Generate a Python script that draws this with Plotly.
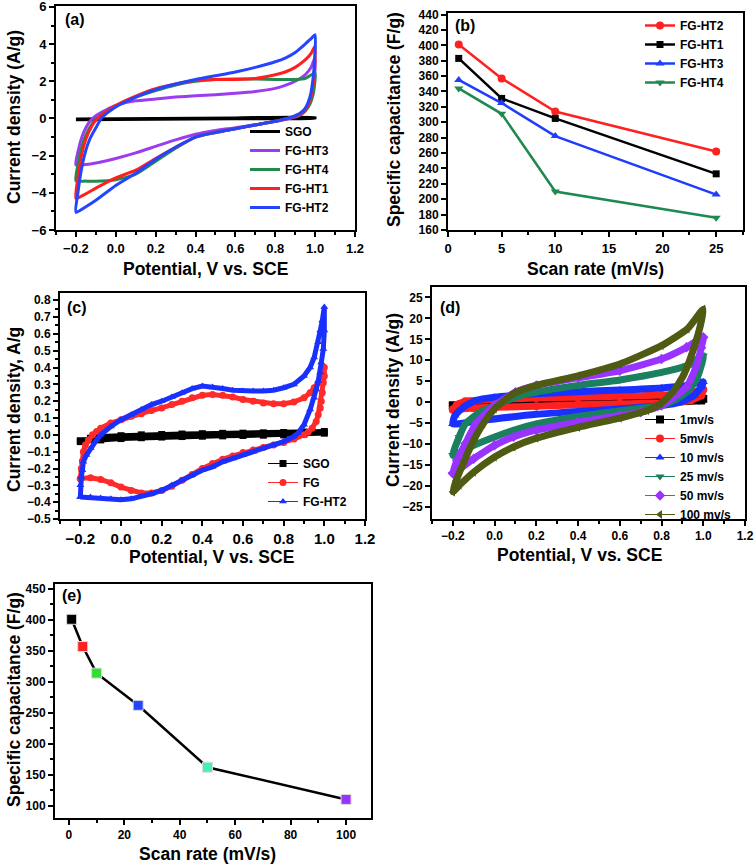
import plotly.graph_objects as go

FONT = "Liberation Sans, Arial, sans-serif"

# ---------------- panel (a): CV curves, V vs I (A/g) ----------------
a_names = ["SGO", "FG-HT3", "FG-HT4", "FG-HT1", "FG-HT2"]
a_colors = ["#000000", "#9b3cf0", "#238a4e", "#ff1f1f", "#2445ff"]

a_sgo_v = [-0.2, 0.2, 0.6, 1.0, 1.0, 0.6, 0.2, -0.2]
a_sgo_i = [-0.03, 0.0, 0.03, 0.05, 0.02, -0.01, -0.04, -0.07]

a_ht3_v = [-0.2, -0.19, -0.17, -0.15, -0.13, -0.1, -0.05, 0.0, 0.05, 0.1, 0.2, 0.3, 0.4, 0.5, 0.6, 0.7, 0.8, 0.85, 0.9, 0.95, 0.98, 1.0,
           0.998, 0.99, 0.975, 0.95, 0.92, 0.88, 0.84, 0.8, 0.7, 0.6, 0.5, 0.4, 0.3, 0.2, 0.1, 0.0, -0.1, -0.15, -0.2]
a_ht3_i = [-2.5, -1.8, -1.0, -0.5, -0.15, 0.15, 0.45, 0.7, 0.85, 0.95, 1.05, 1.15, 1.22, 1.28, 1.35, 1.45, 1.62, 1.78, 2.0, 2.35, 2.75, 3.3,
           2.4, 1.6, 0.9, 0.4, 0.15, 0.02, -0.08, -0.17, -0.33, -0.5, -0.65, -0.85, -1.15, -1.5, -1.85, -2.15, -2.4, -2.48, -2.5]

a_ht4_v = [-0.2, -0.19, -0.17, -0.15, -0.12, -0.1, -0.05, 0.0, 0.1, 0.2, 0.3, 0.4, 0.5, 0.6, 0.7, 0.8, 0.9, 0.95, 1.0,
           0.998, 0.99, 0.975, 0.95, 0.92, 0.88, 0.84, 0.8, 0.7, 0.6, 0.5, 0.4, 0.3, 0.2, 0.1, 0.0, -0.1, -0.15, -0.2]
a_ht4_i = [-3.35, -2.5, -1.5, -0.9, -0.3, -0.05, 0.35, 0.68, 1.15, 1.5, 1.8, 2.0, 2.1, 2.12, 2.12, 2.1, 2.1, 2.15, 2.45,
           1.9, 1.3, 0.8, 0.4, 0.18, 0.05, -0.05, -0.15, -0.35, -0.55, -0.75, -1.0, -1.6, -2.3, -3.0, -3.3, -3.38, -3.37, -3.35]

a_ht1_v = [-0.2, -0.19, -0.17, -0.15, -0.12, -0.1, -0.05, 0.0, 0.1, 0.2, 0.3, 0.4, 0.5, 0.6, 0.7, 0.8, 0.85, 0.9, 0.95, 0.98, 1.0,
           0.998, 0.99, 0.975, 0.95, 0.92, 0.88, 0.84, 0.8, 0.7, 0.6, 0.5, 0.4, 0.3, 0.2, 0.1, 0.0, -0.1, -0.15, -0.2]
a_ht1_i = [-4.3, -3.2, -1.9, -1.1, -0.4, -0.1, 0.35, 0.7, 1.2, 1.6, 1.85, 2.05, 2.1, 2.1, 2.15, 2.35, 2.5, 2.75, 3.15, 3.5, 3.9,
           2.8, 1.8, 1.0, 0.45, 0.2, 0.05, -0.05, -0.15, -0.35, -0.55, -0.75, -1.0, -1.55, -2.15, -2.78, -3.2, -3.75, -4.05, -4.3]

a_ht2_v = [-0.2, -0.19, -0.17, -0.15, -0.13, -0.1, -0.07, -0.03, 0.0, 0.05, 0.1, 0.2, 0.3, 0.4, 0.5, 0.6, 0.7, 0.8, 0.85, 0.9, 0.95, 0.98, 1.0,
           0.998, 0.99, 0.975, 0.95, 0.92, 0.88, 0.84, 0.8, 0.7, 0.6, 0.5, 0.4, 0.3, 0.2, 0.1, 0.0, -0.1, -0.15, -0.2]
a_ht2_i = [-5.05, -4.0, -2.6, -1.7, -1.1, -0.5, 0.05, 0.4, 0.62, 0.9, 1.15, 1.55, 1.85, 2.1, 2.3, 2.5, 2.75, 3.05, 3.25, 3.55, 4.0, 4.3, 4.5,
           3.3, 2.2, 1.2, 0.55, 0.25, 0.07, -0.05, -0.15, -0.35, -0.55, -0.75, -1.0, -1.55, -2.2, -2.95, -3.6, -4.4, -4.75, -5.05]

# ---------------- panel (b): specific capacitance vs scan rate ----------------
b_rate = [1, 5, 10, 25]
b_names = ["FG-HT2", "FG-HT1", "FG-HT3", "FG-HT4"]
b_colors = ["#ff2020", "#000000", "#1f3dff", "#1e8a50"]
b_symbols = ["circle", "square", "triangle-up", "triangle-down"]
b_ht2 = [401, 357, 314, 262]
b_ht1 = [383, 331, 305, 233]
b_ht3 = [355, 325, 282, 206]
b_ht4 = [344, 311, 210, 176]

# ---------------- panel (c): CV curves SGO / FG / FG-HT2 ----------------
c_names = ["SGO", "FG", "FG-HT2"]
c_colors = ["#000000", "#ff2a2a", "#1a30ff"]
c_symbols = ["square", "circle", "triangle-up"]

c_sgo_v = [-0.2, -0.15, -0.1, 0.0, 0.1, 0.2, 0.3, 0.4, 0.5, 0.6, 0.7, 0.8, 0.9, 1.0,
           1.0, 0.9, 0.8, 0.7, 0.6, 0.5, 0.4, 0.3, 0.2, 0.1, 0.0, -0.1, -0.2]
c_sgo_i = [-0.035, -0.02, -0.01, -0.005, 0.0, 0.002, 0.005, 0.007, 0.009, 0.01, 0.012, 0.014, 0.017, 0.02,
           0.01, 0.005, 0.0, -0.002, -0.004, -0.006, -0.008, -0.01, -0.013, -0.017, -0.022, -0.03, -0.04]

c_fg_v = [-0.2, -0.195, -0.19, -0.185, -0.175, -0.16, -0.14, -0.12, -0.1, -0.05, 0.0, 0.05, 0.1, 0.15, 0.2, 0.25, 0.3, 0.35,
          0.4, 0.45, 0.5, 0.55, 0.6, 0.65, 0.7, 0.75, 0.8, 0.85, 0.9, 0.93, 0.95, 0.97, 0.99, 1.0,
          1.0, 0.995, 0.99, 0.985, 0.98, 0.97, 0.96, 0.94, 0.92, 0.9, 0.85, 0.8, 0.75, 0.7, 0.65, 0.6, 0.55, 0.5,
          0.45, 0.4, 0.35, 0.3, 0.25, 0.2, 0.15, 0.1, 0.05, 0.0, -0.05, -0.1, -0.15, -0.2]
c_fg_i = [-0.26, -0.2, -0.155, -0.1, -0.06, -0.03, 0.0, 0.02, 0.04, 0.07, 0.09, 0.11, 0.125, 0.145, 0.16, 0.18, 0.2, 0.22,
          0.235, 0.24, 0.235, 0.225, 0.21, 0.2, 0.19, 0.185, 0.185, 0.195, 0.22, 0.25, 0.28, 0.31, 0.36, 0.4,
          0.35, 0.31, 0.25, 0.2, 0.16, 0.12, 0.08, 0.04, 0.015, 0.0, -0.025, -0.045, -0.06, -0.075, -0.09, -0.105, -0.125, -0.145,
          -0.17, -0.2, -0.235, -0.27, -0.305, -0.33, -0.345, -0.345, -0.33, -0.31, -0.285, -0.265, -0.255, -0.26]

c_ht2_v = [-0.2, -0.2, -0.195, -0.19, -0.185, -0.17, -0.15, -0.12, -0.1, -0.05, 0.0, 0.05, 0.1, 0.15, 0.2, 0.25, 0.3, 0.35,
           0.4, 0.45, 0.5, 0.55, 0.6, 0.65, 0.7, 0.75, 0.8, 0.85, 0.9, 0.93, 0.95, 0.97, 0.98, 0.99, 1.0,
           1.0, 0.995, 0.985, 0.98, 0.97, 0.96, 0.95, 0.93, 0.9, 0.87, 0.85, 0.8, 0.75, 0.7, 0.65, 0.6, 0.55, 0.5,
           0.45, 0.4, 0.35, 0.3, 0.25, 0.2, 0.15, 0.1, 0.05, 0.0, -0.05, -0.1, -0.15, -0.2]
c_ht2_i = [-0.37, -0.3, -0.25, -0.21, -0.16, -0.12, -0.08, -0.03, 0.0, 0.05, 0.09, 0.12, 0.15, 0.18, 0.2, 0.225, 0.25, 0.275,
           0.29, 0.285, 0.275, 0.265, 0.26, 0.26, 0.26, 0.265, 0.28, 0.3, 0.35, 0.4, 0.46, 0.55, 0.62, 0.68, 0.76,
           0.62, 0.51, 0.43, 0.37, 0.32, 0.27, 0.22, 0.15, 0.06, 0.01, -0.01, -0.04, -0.06, -0.08, -0.1, -0.12, -0.14, -0.16,
           -0.19, -0.21, -0.24, -0.27, -0.3, -0.33, -0.35, -0.365, -0.38, -0.385, -0.38, -0.375, -0.37, -0.37]

# ---------------- panel (d): CV of FG-HT2 at several scan rates ----------------
d_names = ["1mv/s", "5mv/s", "10 mv/s", "25 mv/s", "50 mv/s", "100 mv/s"]
d_colors = ["#000000", "#ff2020", "#1a30ff", "#1a8060", "#9933ff", "#4f5a12"]
d_symbols = ["square", "circle", "triangle-up", "triangle-down", "diamond", "triangle-left"]

d_1_v = [-0.2, -0.14, 0.0, 0.4, 0.8, 1.0, 0.99, 0.8, 0.4, 0.0, -0.2]
d_1_i = [-0.8, -0.2, -0.1, 0.2, 0.4, 0.8, 0.4, 0.0, -0.25, -0.5, -0.8]

d_5_v = [-0.2, -0.18, -0.14, 0.0, 0.2, 0.4, 0.6, 0.8, 0.92, 1.0, 0.99, 0.94, 0.86, 0.6, 0.4, 0.2, 0.0, -0.1, -0.2]
d_5_i = [-1.8, -0.6, 0.2, 0.6, 1.0, 1.2, 1.4, 1.7, 2.0, 3.0, 1.6, 0.4, -0.1, -0.4, -0.6, -1.0, -1.2, -1.4, -1.75]

d_10_v = [-0.2, -0.19, -0.15, -0.09, 0.0, 0.2, 0.4, 0.6, 0.8, 0.92, 1.0, 0.99, 0.956, 0.89, 0.8, 0.6, 0.4, 0.2, 0.0, -0.1, -0.2]
d_10_i = [-5.2, -3.2, -1.2, 0.4, 1.2, 2.0, 2.5, 2.9, 3.4, 4.0, 4.8, 3.6, 1.6, 0.0, -0.8, -1.6, -2.2, -2.9, -4.0, -4.6, -5.2]

d_25_v = [-0.2, -0.17, -0.14, -0.07, 0.0, 0.1, 0.2, 0.4, 0.6, 0.8, 0.92, 1.0, 0.99, 0.965, 0.92, 0.86, 0.8, 0.6, 0.4, 0.2, 0.09, 0.0, -0.1, -0.2]
d_25_i = [-12.7, -8.3, -5.2, -2.4, -0.8, 1.2, 2.4, 4.0, 5.3, 7.1, 8.7, 11.1, 8.7, 5.2, 2.4, 0.4, -0.8, -2.1, -3.4, -5.2, -6.7, -8.3, -10.3, -12.7]

d_50_v = [-0.2, -0.18, -0.14, -0.09, 0.0, 0.1, 0.2, 0.4, 0.6, 0.8, 0.92, 1.0, 0.99, 0.965, 0.92, 0.86, 0.8, 0.7, 0.6, 0.4, 0.2, 0.09, 0.0, -0.1, -0.2]
d_50_i = [-17.0, -13.9, -9.9, -5.2, -0.8, 2.4, 4.0, 5.8, 7.5, 10.3, 13.1, 15.5, 13.0, 8.3, 3.6, 1.2, -0.8, -2.4, -3.2, -4.8, -6.7, -8.3, -10.3, -13.5, -17.0]

d_100_v = [-0.2, -0.184, -0.144, -0.104, -0.055, 0.0, 0.09, 0.2, 0.4, 0.6, 0.8, 0.924, 1.0, 0.988, 0.956, 0.908, 0.86, 0.795, 0.73, 0.6, 0.4, 0.2, 0.09, 0.0, -0.1, -0.168, -0.2]
d_100_i = [-21.4, -18.7, -13.9, -9.5, -5.2, -1.6, 2.0, 4.0, 6.3, 9.1, 13.5, 17.5, 22.2, 18.7, 13.1, 6.7, 2.8, -0.4, -2.0, -3.8, -6.0, -8.6, -10.7, -13.1, -16.7, -19.8, -21.4]

# ---------------- panel (e): capacitance of FG-HT2 vs scan rate ----------------
e_rate = [1, 5, 10, 25, 50, 100]
e_cap = [401, 357, 314, 262, 162, 110]
e_colors = ["#000000", "#ff2020", "#33dd33", "#2244ff", "#44eebb", "#9933ff"]

# ---------------- figure ----------------
W, H = 756, 865


def px_x(p):
    return min(1.0, max(0.0, p / W))


def px_y(p):
    return min(1.0, max(0.0, 1 - p / H))


fig = go.Figure()

# (a)
a_sets = [(a_sgo_v, a_sgo_i), (a_ht3_v, a_ht3_i), (a_ht4_v, a_ht4_i), (a_ht1_v, a_ht1_i), (a_ht2_v, a_ht2_i)]
for name, col, (v, i) in zip(a_names, a_colors, a_sets):
    fig.add_trace(go.Scatter(x=v, y=i, mode="lines", name=name, xaxis="x", yaxis="y",
                             line=dict(color=col, width=3, shape="spline", smoothing=0.6),
                             legend="legend"))

# (b)
for name, col, sym, vals in zip(b_names, b_colors, b_symbols, [b_ht2, b_ht1, b_ht3, b_ht4]):
    fig.add_trace(go.Scatter(x=b_rate, y=vals, mode="lines+markers", name=name, xaxis="x2", yaxis="y2",
                             line=dict(color=col, width=2.5),
                             marker=dict(symbol=sym, size=8 if sym != "square" else 7, color=col),
                             legend="legend2"))

# (c)
c_sets = [(c_sgo_v, c_sgo_i), (c_fg_v, c_fg_i), (c_ht2_v, c_ht2_i)]
for name, col, sym, (v, i) in zip(c_names, c_colors, c_symbols, c_sets):
    fig.add_trace(go.Scatter(x=v, y=i, mode="lines", xaxis="x3", yaxis="y3", showlegend=False,
                             line=dict(color=col, width=5), hoverinfo="skip"))
    fig.add_trace(go.Scatter(x=v, y=i, mode="lines+markers", name=name, xaxis="x3", yaxis="y3",
                             line=dict(color=col, width=1),
                             marker=dict(symbol=sym, size=7, color=col),
                             legend="legend3"))

# (d)
d_sets = [(d_1_v, d_1_i), (d_5_v, d_5_i), (d_10_v, d_10_i), (d_25_v, d_25_i), (d_50_v, d_50_i), (d_100_v, d_100_i)]
for name, col, sym, (v, i) in zip(d_names, d_colors, d_symbols, d_sets):
    fig.add_trace(go.Scatter(x=v, y=i, mode="lines", xaxis="x4", yaxis="y4", showlegend=False,
                             line=dict(color=col, width=7, shape="spline", smoothing=0.5), hoverinfo="skip"))
    fig.add_trace(go.Scatter(x=v, y=i, mode="lines+markers", name=name, xaxis="x4", yaxis="y4",
                             line=dict(color=col, width=1, shape="spline", smoothing=0.5),
                             marker=dict(symbol=sym, size=8, color=col),
                             legend="legend4"))

# (e)
fig.add_trace(go.Scatter(x=e_rate, y=e_cap, mode="lines+markers", xaxis="x5", yaxis="y5", showlegend=False,
                         line=dict(color="#000000", width=2.5),
                         marker=dict(symbol="square", size=10, color=e_colors,
                                     line=dict(color="#dddddd", width=1))))


def axis(domain, rng, dtick, minor, anchor, size=13, fmt=None, tick0=None):
    d = dict(domain=domain, range=rng, dtick=dtick, anchor=anchor, automargin=False,
             showline=True, linecolor="black", linewidth=2, mirror=True,
             ticks="outside", ticklen=5, tickwidth=2, tickcolor="black",
             showgrid=False, zeroline=False, ticklabeloverflow="allow",
             tickfont=dict(family=FONT, size=size, color="black", weight="bold"))
    if minor:
        d["minor"] = dict(dtick=minor, ticks="outside", ticklen=3, tickwidth=1.5, tickcolor="black", showgrid=False)
    if fmt:
        d["tickformat"] = fmt
    if tick0 is not None:
        d["tick0"] = tick0
    return d


layout = dict(
    width=W, height=H, margin=dict(l=0, r=0, t=0, b=0, autoexpand=False),
    paper_bgcolor="white", plot_bgcolor="white",
    font=dict(family=FONT, color="black"),
    xaxis=axis([px_x(56), px_x(355)], [-0.3, 1.2], 0.2, 0.1, "y", fmt=".1f"),
    yaxis=axis([px_y(230), px_y(6)], [-6, 6.05], 2, 1, "x"),
    xaxis2=axis([px_x(448), px_x(743)], [0, 27.5], 5, 2.5, "y2"),
    yaxis2=axis([px_y(230), px_y(13)], [160, 442], 20, None, "x2", size=12),
    xaxis3=axis([px_x(60), px_x(365)], [-0.3, 1.2], 0.2, 0.1, "y3", size=15, fmt=".1f"),
    yaxis3=axis([px_y(519), px_y(293)], [-0.5, 0.843], 0.1, 0.05, "x3", size=12, fmt=".1f"),
    xaxis4=axis([px_x(432), px_x(745)], [-0.3, 1.2], 0.2, 0.1, "y4", size=12, fmt=".1f"),
    yaxis4=axis([px_y(519), px_y(287)], [-27.9, 27.5], 5, None, "x4", size=12),
    xaxis5=axis([px_x(55), px_x(371)], [-5, 109], 20, 10, "y5", size=12),
    yaxis5=axis([px_y(818), px_y(584)], [80, 458], 50, 25, "x5", size=12),
)

leg_common = dict(bgcolor="rgba(0,0,0,0)", borderwidth=0, xanchor="left", yanchor="top",
                  font=dict(family=FONT, size=12, color="black", weight="bold"),
                  itemwidth=30, tracegroupgap=0)
layout["legend"] = dict(x=px_x(245), y=px_y(117), **leg_common)
layout["legend2"] = dict(x=px_x(640), y=px_y(11), **leg_common)
layout["legend3"] = dict(x=px_x(263), y=px_y(449), **leg_common)
layout["legend4"] = dict(x=px_x(640), y=px_y(405), **leg_common)

fig.update_layout(**layout)

TF = dict(family=FONT, size=17.5, color="black", weight="bold")
PF = dict(family=FONT, size=16, color="black", weight="bold")
ann = []
# axis titles
for (x, y, t) in [(205, 269, "Potential, V vs. SCE"), (595, 269, "Scan rate (mV/s)"),
                  (211, 557, "Potential, V vs. SCE"), (579, 555, "Potential, V vs. SCE"),
                  (207, 854, "Scan rate (mV/s)")]:
    ann.append(dict(x=px_x(x), y=px_y(y), xref="paper", yref="paper", text=t, showarrow=False,
                    font=TF, xanchor="center", yanchor="middle"))
for (x, y, t) in [(14, 117, "Current density (A/g)"), (394, 120, "Specific capacitance (F/g)"),
                  (14, 410, "Current density, A/g"), (393, 400, "Current density (A/g)"),
                  (14, 700, "Specific capacitance (F/g)")]:
    ann.append(dict(x=px_x(x), y=px_y(y), xref="paper", yref="paper", text=t, showarrow=False,
                    font=TF, textangle=-90, xanchor="center", yanchor="middle"))
# panel labels
for (x, y, t) in [(63, 20, "(a)"), (453, 25, "(b)"), (65, 307, "(c)"), (438, 307, "(d)"), (60, 595, "(e)")]:
    ann.append(dict(x=px_x(x), y=px_y(y), xref="paper", yref="paper", text=t, showarrow=False,
                    font=PF, xanchor="left", yanchor="middle"))
fig.update_layout(annotations=ann)

fig.write_html("out.html", config={"displayModeBar": False},
               post_script="document.body.style.margin='0px';document.body.style.padding='0px';")
